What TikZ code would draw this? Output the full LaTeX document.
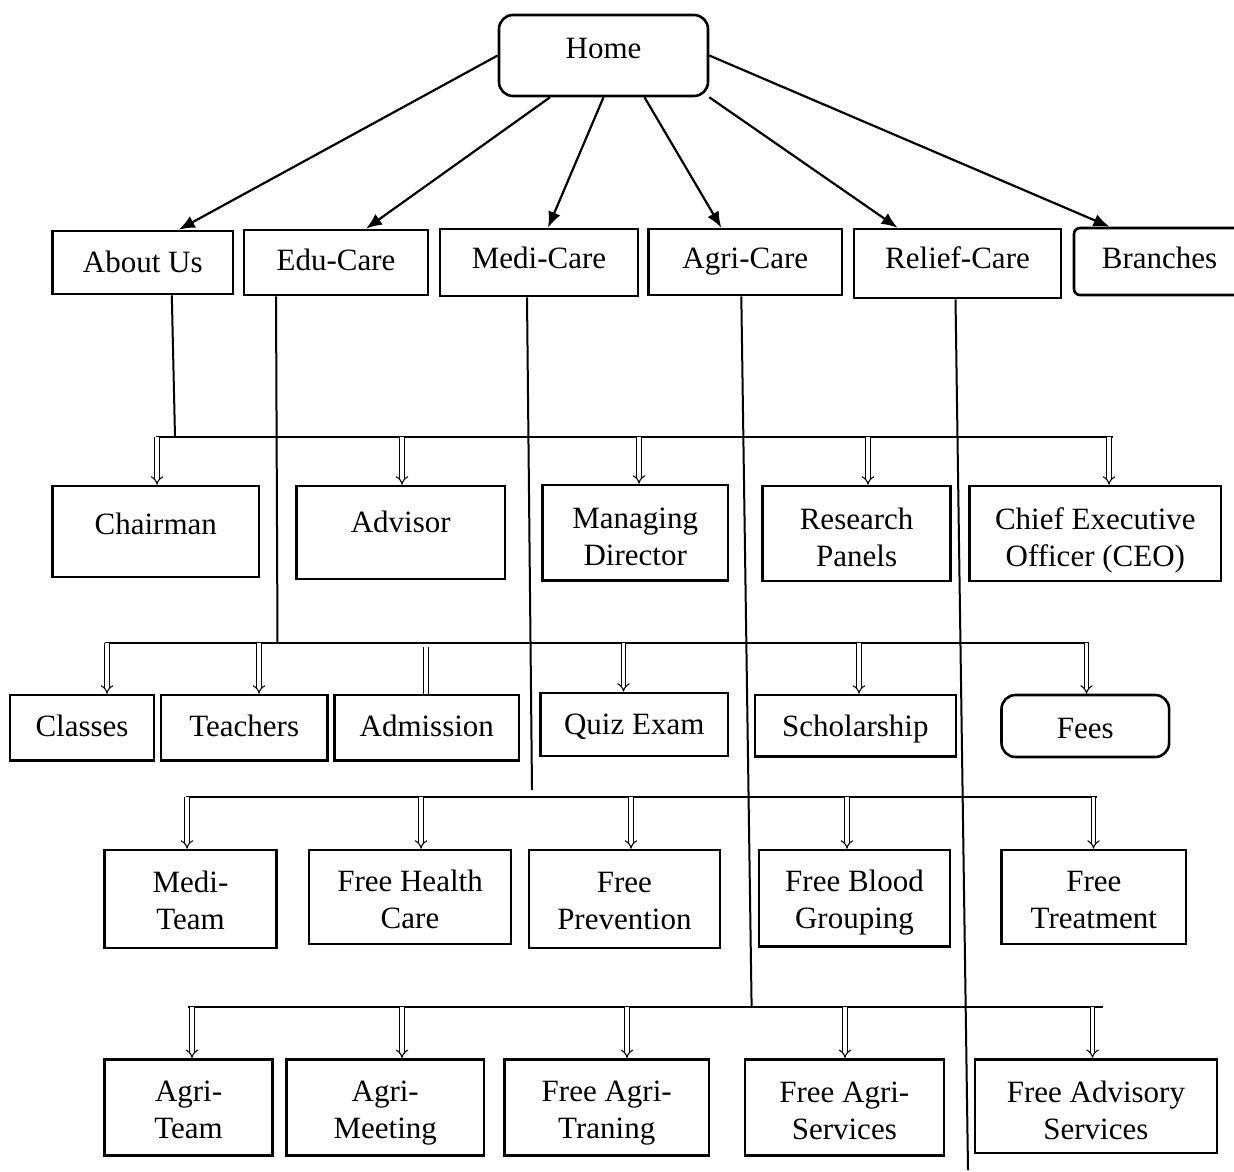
\documentclass[tikz,border=0pt]{standalone}
\usepackage{fontspec}
\setmainfont{Liberation Serif}
\usetikzlibrary{shapes,arrows,arrows.meta,positioning,calc}
\newcommand{\twolines}[2]{\begin{tabular}{@{}c@{}}#1\\#2\end{tabular}}
\tikzstyle{page}=[draw, rectangle, line width=1.3pt, inner sep=1mm, font=\fontsize{15.5}{18.5}\selectfont]
\tikzstyle{onebox}=[page, text height=11pt, text depth=3pt]
\tikzstyle{twobox}=[page, text height=22.4pt, text depth=10.4pt]
\tikzstyle{roundpage}=[onebox, rounded corners=7pt]
\tikzstyle{link}=[-{Latex[length=8pt,width=6.5pt]}, line width=1.1pt]
\tikzstyle{dlink}=[-implies, double, double distance=1.6pt, line width=0.55pt]
\tikzstyle{bus}=[line width=1pt]

\begin{document}
\begin{tikzpicture}[x=0.5pt, y=-0.5pt]
      \useasboundingbox (0,0) rectangle (1234,1171);
      % top level
      \node[roundpage, minimum width=104.5pt, minimum height=40.5pt, text depth=8.2pt] (home) at (603.5,55.5) {Home};
      \node[onebox, minimum width=90.2pt, minimum height=31.5pt, text depth=0.7pt] (about) at (142.8,262.5) {About Us};
      \node[onebox, minimum width=92pt, minimum height=32.5pt, text depth=3.2pt] (edu) at (336,262.5) {Edu-Care};
      \node[onebox, minimum width=99pt, minimum height=33.5pt, text depth=5pt] (medi) at (539,262.5) {Medi-Care};
      \node[onebox, minimum width=96.8pt, minimum height=33pt, text depth=4.4pt] (agri) at (745.3,262) {Agri-Care};
      \node[onebox, minimum width=103.5pt, minimum height=34.5pt, text depth=5.9pt] (relief) at (957.5,263.5) {Relief-Care};
      \node[roundpage, rounded corners=3pt, minimum width=85.5pt, minimum height=33.5pt, text depth=3.9pt] (branch) at (1159.5,261.5) {Branches};
      \draw[link] (home.west) -- ([xshift=18pt]about.north);
      \draw[link] ([xshift=-26.75pt]home.south) -- ([xshift=15pt]edu.north);
      \draw[link] (home.south) -- ([xshift=4.5pt]medi.north);
      \draw[link] ([xshift=20.5pt]home.south) -- ([xshift=-12pt]agri.north);
      \draw[link] (home.south east) -- ([xshift=-30pt]relief.north);
      \draw[link] (home.east) -- ([xshift=-25pt]branch.north);
      % about us
      \node[onebox, minimum width=103.2pt, minimum height=45.5pt, text depth=7.7pt] (chair) at (155.8,531.5) {Chairman};
      \node[onebox, minimum width=104.2pt, minimum height=46.5pt, text depth=11.5pt] (advisor) at (400.8,532.5) {Advisor};
      \node[twobox, minimum width=92.6pt, minimum height=47.8pt, text depth=8pt] (mdir) at (635.2,532.8) {\twolines{Managing}{Director}};
      \node[twobox, minimum width=94pt, minimum height=47.5pt, text depth=7.8pt] (rpanel) at (856.6,533.5) {\twolines{Research}{Panels}};
      \node[twobox, minimum width=125.7pt, minimum height=47.5pt, text depth=7.8pt] (ceo) at (1095.3,533.5) {\twolines{Chief Executive}{Officer (CEO)}};
      % edu-care
      \node[onebox, minimum width=72pt, minimum height=32.8pt, text depth=2.7pt] (classes) at (82,727.8) {Classes};
      \node[onebox, minimum width=83.2pt, minimum height=32.8pt, text depth=2.7pt] (teachers) at (244.2,727.8) {Teachers};
      \node[onebox, minimum width=92.2pt, minimum height=32.8pt, text depth=2.7pt] (admission) at (426.8,727.8) {Admission};
      \node[onebox, minimum width=93.6pt, minimum height=31.5pt, text depth=0.7pt] (quiz) at (634.2,724.5) {Quiz Exam};
      \node[onebox, minimum width=100.5pt, minimum height=30.8pt, text depth=0.7pt] (scholar) at (855.4,725.8) {Scholarship};
      \node[roundpage, minimum width=83.8pt, minimum height=31pt, text height=13pt, text depth=0.4pt] (fees) at (1085.3,726) {Fees};
      % medi-care
      \node[twobox, minimum width=86pt, minimum height=49pt] (mteam) at (190.5,899) {\twolines{Medi-}{Team}};
      \node[twobox, minimum width=101pt, minimum height=47pt, text depth=9.8pt] (fhealth) at (410,897) {\twolines{Free Health}{Care}};
      \node[twobox, minimum width=95.6pt, minimum height=49pt] (fprev) at (624.4,899) {\twolines{Free}{Prevention}};
      \node[twobox, minimum width=95.5pt, minimum height=48.3pt, text depth=11pt] (fblood) at (854.5,898.3) {\twolines{Free Blood}{Grouping}};
      \node[twobox, minimum width=92.3pt, minimum height=47pt, text depth=9.8pt] (ftreat) at (1093.8,897) {\twolines{Free}{Treatment}};
      % agri-care
      \node[twobox, minimum width=84pt, minimum height=48.2pt, text depth=10pt] (ateam) at (188.6,1107.5) {\twolines{Agri-}{Team}};
      \node[twobox, minimum width=98.8pt, minimum height=48.2pt, text depth=10pt] (ameet) at (385.2,1107.5) {\twolines{Agri-}{Meeting}};
      \node[twobox, minimum width=102.4pt, minimum height=48.2pt, text depth=10pt] (atrain) at (606.7,1107.5) {\twolines{Free Agri-}{Traning}};
      \node[twobox, minimum width=99.5pt, minimum height=48.2pt, text depth=9.5pt] (aserv) at (844.3,1107.5) {\twolines{Free Agri-}{Services}};
      \node[twobox, minimum width=120.9pt, minimum height=46.8pt, text depth=8pt] (advis) at (1095.9,1106) {\twolines{Free Advisory}{Services}};
      % buses
      \coordinate (b2l) at (156,437);   \coordinate (b2r) at (1113,437);
      \coordinate (b3l) at (105,643);   \coordinate (b3r) at (1089,643);
      \coordinate (b4l) at (186,797);   \coordinate (b4r) at (1097,797);
      \coordinate (b5l) at (188,1006.5); \coordinate (b5r) at (1103,1006.5);
      \coordinate (aboutJ) at (175,437);
      \coordinate (eduJ) at (277.5,643);
      \coordinate (mediJ) at (532,790);
      \coordinate (agriJ) at (751.6,1006.5);
      \coordinate (reliefJ) at (968,1170);
      \draw[bus] (about.south) + (29,0) -- (aboutJ);
      \draw[bus] (edu.south) + (-60,0) -- (eduJ);
      \draw[bus] (medi.south) + (-12,0) -- (mediJ);
      \draw[bus] (agri.south) + (-4,0) -- (agriJ);
      \draw[bus] (relief.south) + (-2,0) -- (reliefJ);
      \draw[bus] (b2l) -- (b2r);
      \draw[bus] (b3l) -- (b3r);
      \draw[bus] (b4l) -- (b4r);
      \draw[bus] (b5l) -- (b5r);
      \foreach \n/\x in {chair/157, advisor/402, mdir/639, rpanel/868, ceo/1109}
        \draw[dlink] (b2l -| \x,0) -- (\n.north -| \x,0);
      \foreach \n/\x in {classes/107, teachers/259, quiz/623.5, scholar/859, fees/1086.5}
        \draw[dlink] (b3l -| \x,0) -- (\n.north -| \x,0);
      \draw[dlink, -] (426,647) -- (admission.north -| 426,0);
      \foreach \n/\x in {mteam/187, fhealth/421, fprev/631, fblood/847, ftreat/1093.5}
        \draw[dlink] (b4l -| \x,0) -- (\n.north -| \x,0);
      \foreach \n/\x in {ateam/192, ameet/402, atrain/627, aserv/845, advis/1092.5}
        \draw[dlink] (b5l -| \x,0) -- (\n.north -| \x,0);
\end{tikzpicture}
\end{document}
